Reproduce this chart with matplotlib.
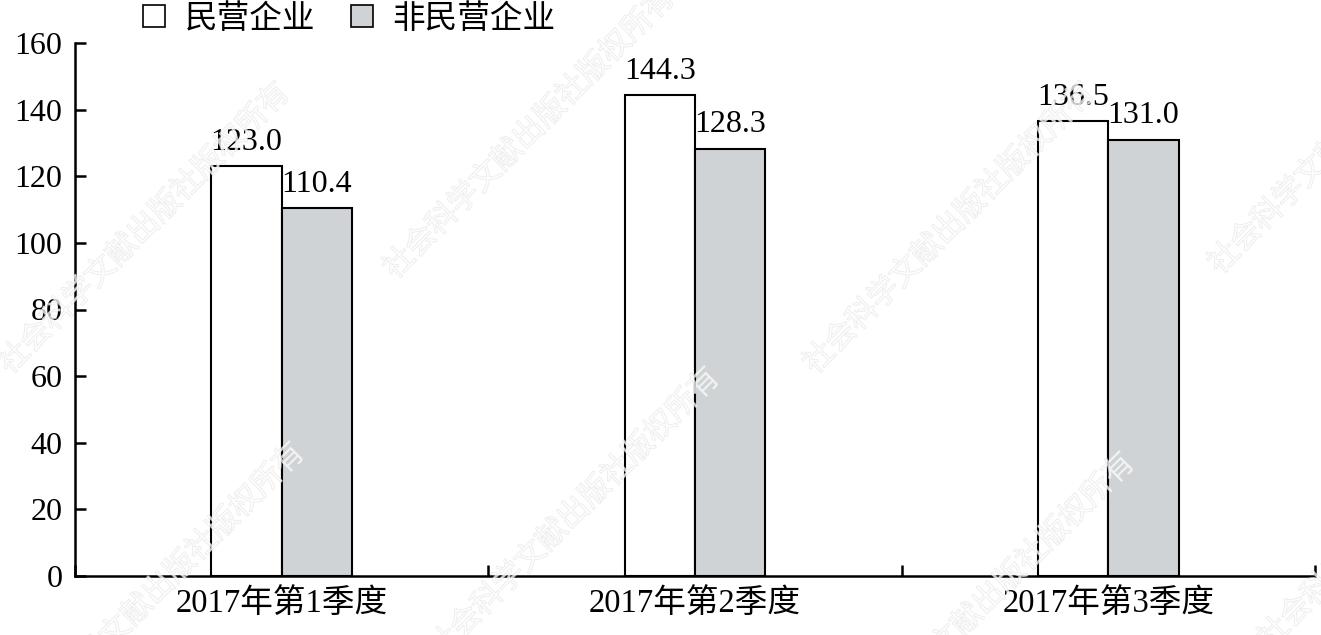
import numpy as np
import matplotlib
matplotlib.use("Agg")
import matplotlib.pyplot as plt
import matplotlib.patheffects as pe
from matplotlib.patches import Patch

plt.rcParams['font.family'] = ['Liberation Serif', 'Noto Sans CJK SC', 'DejaVu Sans']

# 数据
categories = ['2017年第1季度', '2017年第2季度', '2017年第3季度']
series_names = ['民营企业', '非民营企业']
private_vals = [123.0, 144.3, 136.5]
non_private_vals = [110.4, 128.3, 131.0]
y_ticks = [0, 20, 40, 60, 80, 100, 120, 140, 160]

W, H = 1321, 635
fig = plt.figure(figsize=(W / 100, H / 100), dpi=100)
ax = fig.add_axes([75 / W, 1 - 576 / H, (1315 - 75) / W, (576 - 43) / H])

x = np.arange(len(categories))
bw = 0.17
fs = 23

b1 = ax.bar(x - bw / 2, private_vals, bw, color='white', edgecolor='black', linewidth=1.5, zorder=2)
b2 = ax.bar(x + bw / 2, non_private_vals, bw, color='#d0d3d6', edgecolor='black', linewidth=1.5, zorder=2)

for bars, vals in ((b1, private_vals), (b2, non_private_vals)):
    for rect, v in zip(bars, vals):
        ax.annotate('%.1f' % v, (rect.get_x() + rect.get_width() / 2, v),
                    xytext=(0, 12), textcoords='offset points',
                    ha='center', va='baseline', fontsize=fs)

ax.set_xlim(-0.5, len(categories) - 0.5)
ax.set_ylim(0, 160)
ax.set_yticks(y_ticks)
ax.set_yticklabels([str(t) for t in y_ticks], fontsize=fs)

# 类别边界刻度 + 居中标签
ax.set_xticks(np.arange(len(categories) + 1) - 0.5)
ax.set_xticklabels([])
ax.set_xticks(x, minor=True)
ax.set_xticklabels(categories, minor=True, fontsize=23.5)
ax.tick_params(axis='x', which='minor', length=0, pad=9)
ax.tick_params(axis='x', which='major', direction='in', length=8, width=1.8)
ax.tick_params(axis='y', direction='in', length=8, width=1.8, pad=9)

for s in ('top', 'right'):
    ax.spines[s].set_visible(False)
for s in ('left', 'bottom'):
    ax.spines[s].set_linewidth(1.8)

handles = [Patch(facecolor='white', edgecolor='black', linewidth=1.2),
           Patch(facecolor='#d0d3d6', edgecolor='black', linewidth=1.2)]
fig.legend(handles, series_names, loc='upper left', bbox_to_anchor=(143 / W, 1 - 4 / H),
           frameon=False, fontsize=23.5, ncol=2, handlelength=0.67, handleheight=0.67,
           handletextpad=0.6, columnspacing=1.1, borderpad=0, borderaxespad=0)

# 水印
wm = '社会科学文献出版社版权所有'
wm_pos = [(10, 375), (395, 280), (815, 375), (1220, 275),
          (25, 735), (440, 660), (855, 745), (1270, 650)]
for px, py in wm_pos:
    fig.text(px / W, 1 - py / H, wm, rotation=45, rotation_mode='anchor',
             ha='left', va='baseline', fontsize=22, family=['Noto Sans CJK SC'],
             color='white', alpha=0.5, zorder=10,
             path_effects=[pe.withStroke(linewidth=0.8, foreground='#d6d6d6')])

fig.savefig('out.png', dpi=100)
